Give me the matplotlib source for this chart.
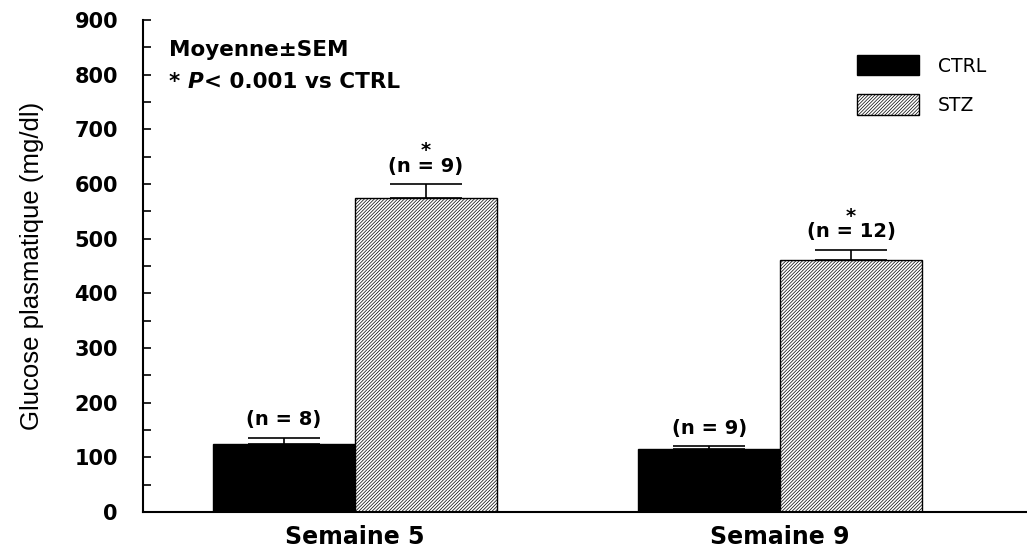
import numpy as np
import matplotlib
matplotlib.use("Agg")
import matplotlib.pyplot as plt
from matplotlib.ticker import MultipleLocator

plt.rcParams['font.family'] = ['DejaVu Sans']
plt.rcParams['hatch.linewidth'] = 0.5

# data
weeks = ["Semaine 5", "Semaine 9"]
groups = ["CTRL", "STZ"]
ctrl_mean = [124, 115]
ctrl_sem = [12, 5]
stz_mean = [574, 461]
stz_sem = [26, 19]
ctrl_n = ["(n = 8)", "(n = 9)"]
stz_n = ["(n = 9)", "(n = 12)"]
stz_signif = ["*", "*"]

fig = plt.figure(figsize=(10.27, 5.52), dpi=100)
ax = fig.add_axes([143/1027, 1 - 512/552, 1 - 143/1027, (512 - 20)/552])

x = np.arange(len(weeks))
w = 0.334

ax.bar(x - w/2, ctrl_mean, w, color="black", edgecolor="black", linewidth=1,
       label=groups[0], zorder=2)
ax.bar(x + w/2, stz_mean, w, color="white", edgecolor="black", linewidth=1,
       hatch="//////////", label=groups[1], zorder=2)
ax.errorbar(x - w/2, ctrl_mean, yerr=[np.zeros(2), ctrl_sem], fmt="none",
            ecolor="black", elinewidth=1.2, capsize=26, capthick=1.2, zorder=3)
ax.errorbar(x + w/2, stz_mean, yerr=[np.zeros(2), stz_sem], fmt="none",
            ecolor="black", elinewidth=1.2, capsize=26, capthick=1.2, zorder=3)

for i in range(len(weeks)):
    ax.annotate(ctrl_n[i], (x[i] - w/2, ctrl_mean[i] + ctrl_sem[i]),
                xytext=(0, 6), textcoords="offset points", ha="center", va="bottom",
                fontsize=14, fontweight="bold")
    # significance star stacked over the n label in one text
    ax.annotate(stz_signif[i] + "\n" + stz_n[i], (x[i] + w/2, stz_mean[i] + stz_sem[i]),
                xytext=(0, 6), textcoords="offset points", ha="center", va="bottom",
                multialignment="center", linespacing=0.78,
                fontsize=14, fontweight="bold")

ax.set_xlim(-0.499, 1.581)
ax.set_ylim(0, 900)
ax.yaxis.set_major_locator(MultipleLocator(100))
ax.yaxis.set_minor_locator(MultipleLocator(50))
ax.tick_params(axis="y", which="both", direction="in", length=6, width=1.2,
               labelsize=15, pad=18)
for lab in ax.get_yticklabels():
    lab.set_fontweight("bold")
ax.set_xticks(x)
ax.set_xticklabels(weeks, fontsize=17, fontweight="bold")
ax.tick_params(axis="x", length=0, pad=9)

ax.spines["top"].set_visible(False)
ax.spines["right"].set_visible(False)
ax.spines["left"].set_linewidth(1.5)
ax.spines["bottom"].set_linewidth(1.5)

ax.set_ylabel("Glucose plasmatique (mg/dl)", fontsize=18.5,
              family=["Liberation Sans", "DejaVu Sans"])
ax.yaxis.set_label_coords(-0.112, 0.5)

t1 = ax.text(169/1027, 1 - 50/552, "Moyenne\u00b1SEM", transform=fig.transFigure,
             fontsize=15.5, fontweight="bold", va="center", ha="left")
t2 = ax.text(169/1027, 1 - 82/552, "* ", transform=fig.transFigure,
             fontsize=15.5, fontweight="bold", va="center", ha="left")
t3 = ax.annotate("P", xy=(1, 0), xycoords=t2, va="bottom", ha="left",
                 fontsize=15.5, fontweight="bold", fontstyle="italic")
ax.annotate("< 0.001 vs CTRL", xy=(1, 0), xycoords=t3, va="bottom", ha="left",
            fontsize=15.5, fontweight="bold")

ax.legend(loc="upper left", bbox_to_anchor=(857/1027, 1 - 55/552),
          bbox_transform=fig.transFigure, frameon=False, fontsize=13.5,
          handlelength=3.3, handleheight=1.3, labelspacing=1.0,
          handletextpad=1.0, borderpad=0, borderaxespad=0)

fig.savefig("out.png", dpi=100)
